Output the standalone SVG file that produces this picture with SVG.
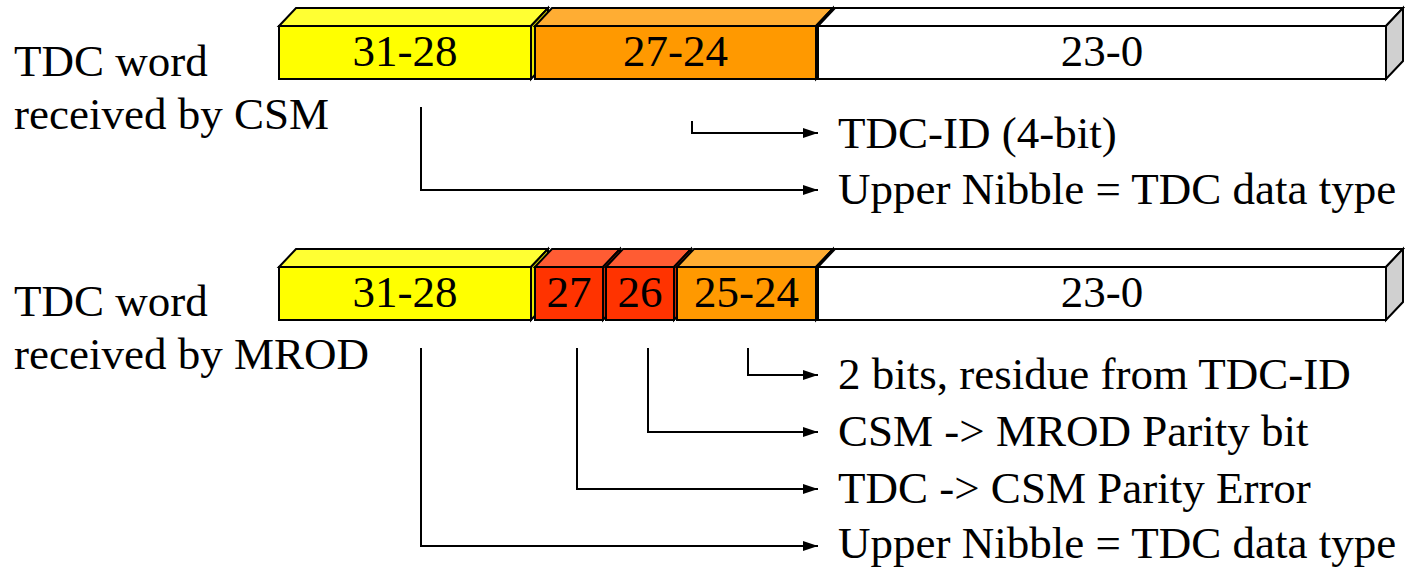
<svg xmlns="http://www.w3.org/2000/svg" width="1405" height="568" viewBox="0 0 1405 568" font-family="'Liberation Serif', Tinos, 'DejaVu Serif', serif">
  <defs>
    <style>
      text { font-family: "Liberation Serif", Tinos, "DejaVu Serif", serif; font-size: 45px; fill: #000; }
      .num { text-anchor: middle; }
      .face { stroke: #000; stroke-width: 2; stroke-linejoin: miter; }
      .link { fill: none; stroke: #000; stroke-width: 2; }
      .yel .front { fill: #FFFF00; } .yel .top { fill: #FFFF33; } .yel .side { fill: #E6E600; }
      .org .front { fill: #FF9900; } .org .top { fill: #FFAD33; } .org .side { fill: #CC7A00; }
      .red .front { fill: #FF3300; } .red .top { fill: #FF5C33; } .red .side { fill: #CC2900; }
      .wht .front { fill: #FFFFFF; } .wht .top { fill: #FFFFFF; } .wht .side { fill: #D0D0D0; }
    </style>
    <marker id="arrow" viewBox="0 0 15 10" refX="15" refY="5" markerWidth="15" markerHeight="10" markerUnits="userSpaceOnUse" orient="auto">
      <path d="M0,0 L15,5 L0,10 Z" fill="#000"/>
    </marker>
  </defs>

  <!-- Row labels -->
  <g id="label-csm">
    <text x="14" y="76">TDC word</text>
    <text x="14" y="129">received by CSM</text>
  </g>
  <g id="label-mrod">
    <text x="14" y="316">TDC word</text>
    <text x="14" y="369">received by MROD</text>
  </g>

  <!-- Upper word: bit fields as extruded boxes (depth 17 x 18) -->
  <g id="csm-31-28" class="yel">
    <polygon class="face top" points="279,26 296,8 548,8 531,26"/>
    <polygon class="face side" points="531,26 548,8 548,61 531,79"/>
    <rect class="face front" x="279" y="26" width="252" height="53"/>
    <text class="num" x="405" y="66">31-28</text>
  </g>
  <g id="csm-27-24" class="org">
    <polygon class="face top" points="535,26 552,8 833,8 816,26"/>
    <polygon class="face side" points="816,26 833,8 833,61 816,79"/>
    <rect class="face front" x="535" y="26" width="281" height="53"/>
    <text class="num" x="675.5" y="66">27-24</text>
  </g>
  <g id="csm-23-0" class="wht">
    <polygon class="face top" points="818,26 835,8 1403,8 1386,26"/>
    <polygon class="face side" points="1386,26 1403,8 1403,61 1386,79"/>
    <rect class="face front" x="818" y="26" width="568" height="53"/>
    <text class="num" x="1102" y="66">23-0</text>
  </g>

  <!-- Lower word -->
  <g id="mrod-31-28" class="yel">
    <polygon class="face top" points="279,267 296,249 548,249 531,267"/>
    <polygon class="face side" points="531,267 548,249 548,302 531,320"/>
    <rect class="face front" x="279" y="267" width="252" height="53"/>
    <text class="num" x="405" y="307">31-28</text>
  </g>
  <g id="mrod-27" class="red">
    <polygon class="face top" points="535,267 552,249 620,249 603,267"/>
    <polygon class="face side" points="603,267 620,249 620,302 603,320"/>
    <rect class="face front" x="535" y="267" width="68" height="53"/>
    <text class="num" x="569" y="307">27</text>
  </g>
  <g id="mrod-26" class="red">
    <polygon class="face top" points="606,267 623,249 691,249 674,267"/>
    <polygon class="face side" points="674,267 691,249 691,302 674,320"/>
    <rect class="face front" x="606" y="267" width="68" height="53"/>
    <text class="num" x="640" y="307">26</text>
  </g>
  <g id="mrod-25-24" class="org">
    <polygon class="face top" points="677,267 694,249 833,249 816,267"/>
    <polygon class="face side" points="816,267 833,249 833,302 816,320"/>
    <rect class="face front" x="677" y="267" width="139" height="53"/>
    <text class="num" x="746.5" y="307">25-24</text>
  </g>
  <g id="mrod-23-0" class="wht">
    <polygon class="face top" points="818,267 835,249 1403,249 1386,267"/>
    <polygon class="face side" points="1386,267 1403,249 1403,302 1386,320"/>
    <rect class="face front" x="818" y="267" width="568" height="53"/>
    <text class="num" x="1102" y="307">23-0</text>
  </g>

  <!-- Field descriptions -->
  <g id="desc-csm">
    <text x="838" y="148">TDC-ID (4-bit)</text>
    <text x="838" y="204">Upper Nibble = TDC data type</text>
  </g>
  <g id="desc-mrod">
    <text x="838" y="389">2 bits, residue from TDC-ID</text>
    <text x="838" y="446">CSM -&gt; MROD Parity bit</text>
    <text x="838" y="503">TDC -&gt; CSM Parity Error</text>
    <text x="838" y="558">Upper Nibble = TDC data type</text>
  </g>

  <!-- Connectors -->
  <g id="connectors">
    <polyline class="link" points="692,121 692,133 818,133" marker-end="url(#arrow)"/>
    <polyline class="link" points="421,107 421,190 818,190" marker-end="url(#arrow)"/>
    <polyline class="link" points="748,348 748,375 818,375" marker-end="url(#arrow)"/>
    <polyline class="link" points="648,348 648,432 818,432" marker-end="url(#arrow)"/>
    <polyline class="link" points="577,348 577,489 818,489" marker-end="url(#arrow)"/>
    <polyline class="link" points="421,348 421,546 818,546" marker-end="url(#arrow)"/>
  </g>
</svg>
